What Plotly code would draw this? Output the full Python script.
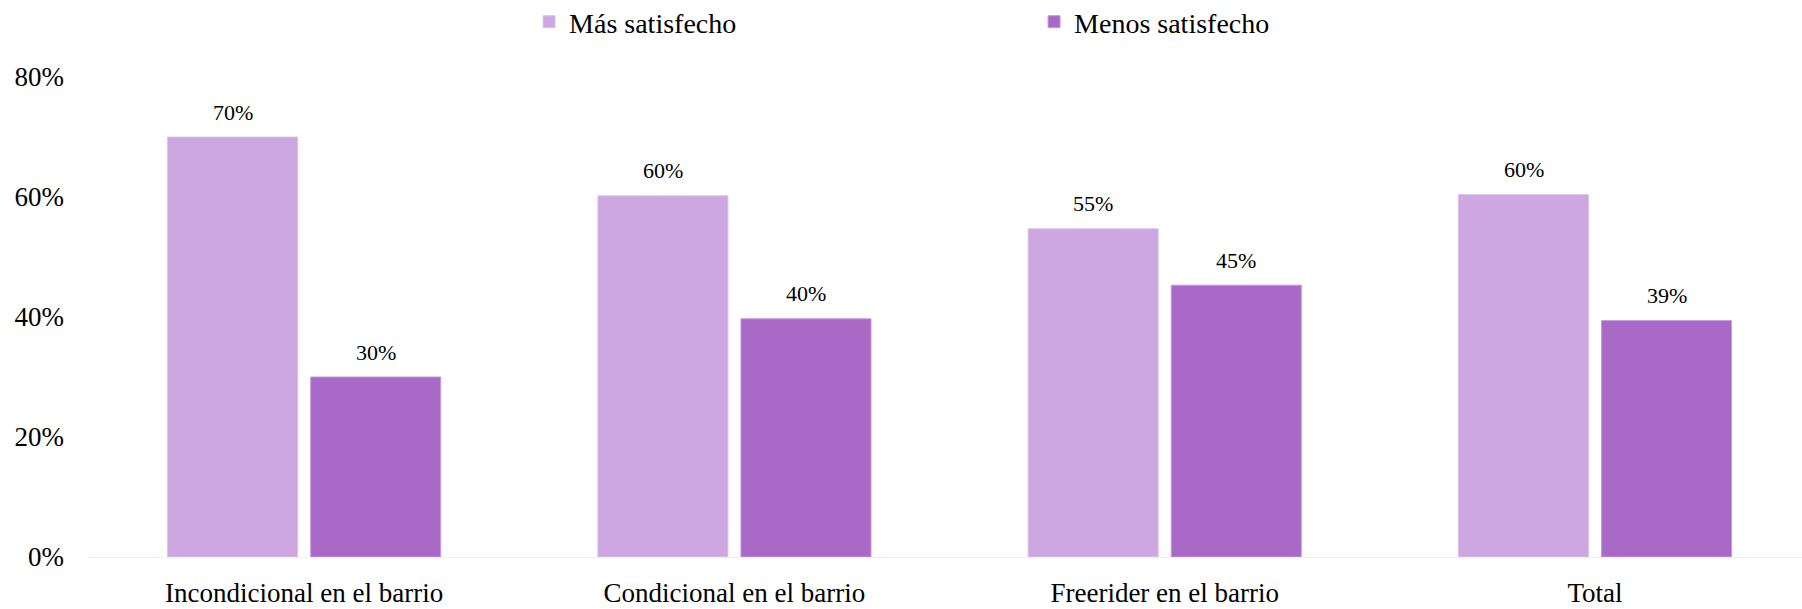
import plotly.graph_objects as go

# Data
categories = ["Incondicional en el barrio", "Condicional en el barrio",
              "Freerider en el barrio", "Total"]
mas_satisfecho = [70.0, 60.2, 54.7, 60.4]
menos_satisfecho = [30.0, 39.7, 45.3, 39.4]
mas_labels = ["70%", "60%", "55%", "60%"]
menos_labels = ["30%", "40%", "45%", "39%"]
y_ticks = [0, 20, 40, 60, 80]
y_tick_labels = ["0%", "20%", "40%", "60%", "80%"]

FONT = "Liberation Serif, Palatino Linotype, serif"
LIGHT = "#CDA8E0"
DARK = "#A86AC6"

fig = go.Figure()

fig.add_trace(go.Bar(
    x=categories,
    y=mas_satisfecho,
    name="Más satisfecho",
    marker=dict(color=LIGHT, line=dict(color="#DCC0EA", width=1)),
))

fig.add_trace(go.Bar(
    x=categories,
    y=menos_satisfecho,
    name="Menos satisfecho",
    marker=dict(color=DARK, line=dict(color="#C49BDA", width=1)),
))

# value labels above bars
for cat, v, t in zip(categories, mas_satisfecho, mas_labels):
    fig.add_annotation(x=cat, y=v, text=t, showarrow=False, xshift=-71.5,
                       yshift=25, yanchor="middle",
                       font=dict(family=FONT, size=22, color="#000000"))
for cat, v, t in zip(categories, menos_satisfecho, menos_labels):
    fig.add_annotation(x=cat, y=v, text=t, showarrow=False, xshift=71.5,
                       yshift=25, yanchor="middle",
                       font=dict(family=FONT, size=22, color="#000000"))

fig.update_layout(
    width=1802,
    height=609,
    barmode="group",
    bargap=0.335,
    bargroupgap=0.091,
    plot_bgcolor="white",
    paper_bgcolor="white",
    margin=dict(l=89, r=0, t=77, b=52, autoexpand=False),
    font=dict(family=FONT, size=26, color="#000000"),
    showlegend=True,
    legend=dict(
        orientation="h",
        x=0.2569,
        xanchor="left",
        y=1.1146,
        yanchor="middle",
        entrywidth=460,
        font=dict(family=FONT, size=28, color="#000000"),
        bgcolor="rgba(0,0,0,0)",
    ),
    xaxis=dict(
        range=[-0.5, 3.481],
        showline=True,
        linecolor="#EFEFEF",
        linewidth=1,
        showgrid=False,
        ticks="",
        ticklabelstandoff=12,
        tickfont=dict(family=FONT, size=27, color="#000000"),
    ),
    yaxis=dict(
        range=[0, 80],
        tickmode="array",
        tickvals=y_ticks,
        ticktext=y_tick_labels,
        showgrid=False,
        zeroline=False,
        showline=False,
        ticklabelstandoff=24,
        tickfont=dict(family=FONT, size=27, color="#000000"),
    ),
)

# remove the default page margin so the figure fills the window exactly
fig.write_html("out.html", config={"displayModeBar": False},
               post_script="document.body.style.margin='0';")
